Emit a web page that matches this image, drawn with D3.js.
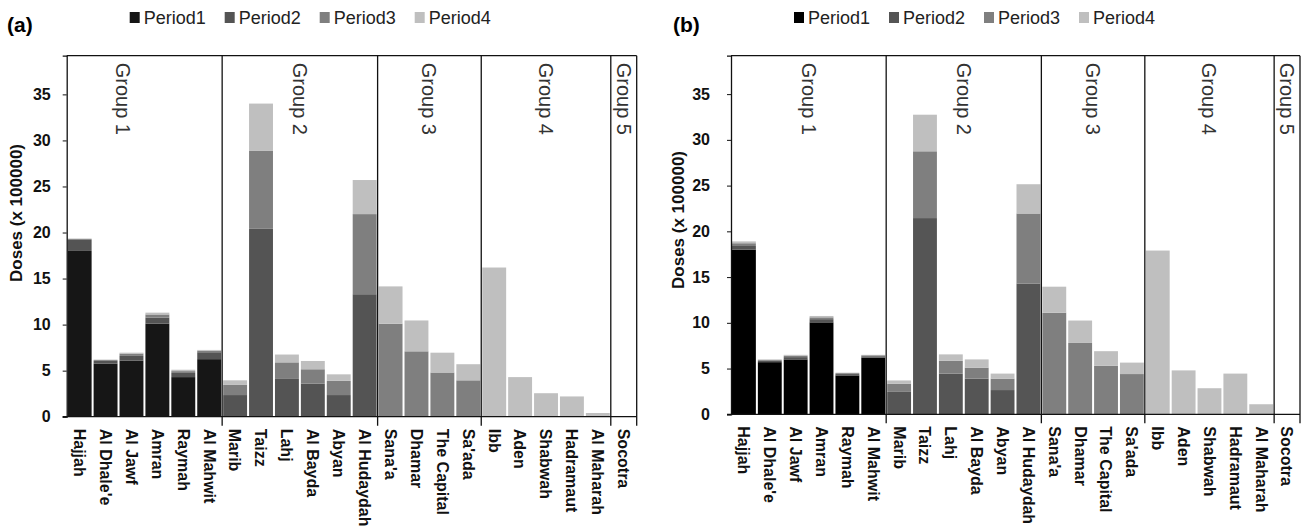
<!DOCTYPE html>
<html>
<head>
<meta charset="utf-8">
<script src="https://cdn.jsdelivr.net/npm/d3@7"></script>
<style>
  body { margin: 0; background: #fff; }
  svg { display: block; font-family: "Liberation Sans", Arial, sans-serif; }
</style>
</head>
<body>
<svg id="chart" width="1306" height="530"></svg>
<script>
// Provincias (orden del eje x) y grupos
const provinces = ["Hajjah", "Al Dhale'e", "Al Jawf", "Amran", "Raymah", "Al Mahwit",
  "Marib", "Taizz", "Lahj", "Al Bayda", "Abyan", "Al Hudaydah",
  "Sana'a", "Dhamar", "The Capital", "Sa'ada",
  "Ibb", "Aden", "Shabwah", "Hadramaut", "Al Maharah",
  "Socotra"];
const groupLabels = ["Group 1", "Group 2", "Group 3", "Group 4", "Group 5"];
const groupCounts = [6, 6, 4, 5, 1];
const periods = ["Period1", "Period2", "Period3", "Period4"];
const yTicks = [0, 5, 10, 15, 20, 25, 30, 35];

// Panel (a)
const aPeriod1 = [18, 5.75, 6.1, 10.1, 4.3, 6.25, 0, 0, 0, 0, 0, 0, 0, 0, 0, 0, 0, 0, 0, 0, 0, 0];
const aPeriod2 = [1.2, 0.3, 0.5, 0.65, 0.45, 0.75, 2.35, 20.4, 4.1, 3.6, 2.35, 13.3, 0, 0, 0, 0, 0, 0, 0, 0, 0, 0];
const aPeriod3 = [0.1, 0.1, 0.25, 0.35, 0.2, 0.15, 1.1, 8.5, 1.8, 1.55, 1.55, 8.7, 10.1, 7.1, 4.8, 3.95, 0, 0, 0, 0, 0, 0];
const aPeriod4 = [0.05, 0.05, 0.1, 0.2, 0.15, 0.1, 0.5, 5.1, 0.85, 0.9, 0.7, 3.7, 4.05, 3.35, 2.15, 1.75, 16.2, 4.3, 2.55, 2.2, 0.4, 0];

// Panel (b)
const bPeriod1 = [18, 5.7, 6.0, 10.05, 4.25, 6.2, 0, 0, 0, 0, 0, 0, 0, 0, 0, 0, 0, 0, 0, 0, 0, 0];
const bPeriod2 = [0.4, 0.15, 0.25, 0.35, 0.15, 0.15, 2.45, 21.45, 4.45, 3.9, 2.65, 14.3, 0, 0, 0, 0, 0, 0, 0, 0, 0, 0];
const bPeriod3 = [0.3, 0.1, 0.15, 0.2, 0.1, 0.1, 0.9, 7.3, 1.4, 1.2, 1.25, 7.65, 11.1, 7.8, 5.3, 4.4, 0, 0, 0, 0, 0, 0];
const bPeriod4 = [0.2, 0.05, 0.1, 0.15, 0.05, 0.05, 0.35, 4.0, 0.7, 0.9, 0.55, 3.2, 2.85, 2.45, 1.6, 1.25, 17.9, 4.8, 2.85, 4.45, 1.1, 0];

const svg = d3.select("#chart");

function drawPanel(cfg) {
  const w = cfg.right - cfg.left, h = cfg.bottom - cfg.top;

  const rows = provinces.map((p, i) => ({
    name: p,
    Period1: cfg.values[0][i], Period2: cfg.values[1][i],
    Period3: cfg.values[2][i], Period4: cfg.values[3][i]
  }));
  const series = d3.stack().keys(periods)(rows);

  const x = d3.scaleBand().domain(provinces).range([0, w]).paddingInner(0);
  const y = d3.scaleLinear().domain([0, 39.2]).range([h, 0]);
  const color = d3.scaleOrdinal().domain(periods).range(cfg.colors);

  // Etiqueta del panel
  svg.append("text")
    .attr("x", cfg.tagX).attr("y", 32)
    .style("font-size", "21px").style("font-weight", "bold")
    .text(cfg.tag);

  // Leyenda
  const leg = svg.append("g").attr("transform", `translate(${cfg.left + 63},0)`);
  periods.forEach((p, i) => {
    const g = leg.append("g").attr("transform", `translate(${i * 95},0)`);
    g.append("rect").attr("x", 0).attr("y", 12).attr("width", 10).attr("height", 11)
      .attr("fill", color(p));
    g.append("text").attr("x", 14).attr("y", 24)
      .style("font-size", "18px").attr("fill", "#222").text(p);
  });

  const g = svg.append("g").attr("transform", `translate(${cfg.left},${cfg.top})`);

  // Barras apiladas
  g.append("g")
    .selectAll("g")
    .data(series)
    .join("g")
    .attr("fill", d => color(d.key))
    .selectAll("rect")
    .data(d => d)
    .join("rect")
    .attr("x", d => x(d.data.name) + 1)
    .attr("width", x.bandwidth() - 2)
    .attr("y", d => y(d[1]))
    .attr("height", d => y(d[0]) - y(d[1]));

  // Eje y
  const yAxis = g.append("g")
    .call(d3.axisLeft(y).tickValues(yTicks).tickSize(4).tickPadding(cfg.tickPad));
  yAxis.select(".domain").attr("stroke", "#111").attr("stroke-width", 1.3);
  yAxis.selectAll("line").attr("stroke", "#111");
  yAxis.selectAll("text").style("font-size", "16px").style("font-weight", "bold")
    .attr("fill", "#111").attr("font-family", null);

  // Título del eje y
  svg.append("text")
    .attr("transform", `translate(${cfg.titleX},${cfg.titleY}) rotate(-90)`)
    .attr("text-anchor", "middle")
    .attr("dy", "0.35em")
    .style("font-size", "17px").style("font-weight", "bold").attr("fill", "#111")
    .text("Doses (x 100000)");

  // Eje x con etiquetas rotadas
  g.append("line").attr("x1", -4).attr("x2", w).attr("y1", h).attr("y2", h)
    .attr("stroke", "#111").attr("stroke-width", 1.3);
  g.append("line").attr("x1", 0).attr("x2", w).attr("y1", 0).attr("y2", 0)
    .attr("stroke", "#111").attr("stroke-width", 1.3);

  g.append("g")
    .selectAll("text")
    .data(provinces)
    .join("text")
    .attr("transform", d => `translate(${x(d) + x.bandwidth() / 2},${h + 12}) rotate(90)`)
    .attr("dy", "0.35em")
    .style("font-size", "16px").style("font-weight", "bold").attr("fill", "#111")
    .text(d => d);

  // Divisores y etiquetas de grupos
  let start = 0;
  groupLabels.forEach((lab, i) => {
    const first = provinces[start];
    const last = provinces[start + groupCounts[i] - 1];
    const x0 = x(first), x1 = x(last) + x.bandwidth();
    g.append("line").attr("x1", x1).attr("x2", x1).attr("y1", 0).attr("y2", h + 9)
      .attr("stroke", "#111").attr("stroke-width", 1.3);
    g.append("text")
      .attr("transform", `translate(${(x0 + x1) / 2 + cfg.groupNudge[i]},7) rotate(90)`)
      .attr("dy", "0.35em")
      .style("font-size", "20px").attr("fill", "#333")
      .text(lab);
    start += groupCounts[i];
  });
}

drawPanel({
  tag: "(a)", tagX: 7, left: 66.7, right: 636.7, top: 55.7, bottom: 416.7,
  titleX: 16, titleY: 213, tickPad: 12, groupNudge: [-21, 0, 0, 0, 0],
  values: [aPeriod1, aPeriod2, aPeriod3, aPeriod4],
  colors: ["#161616", "#545454", "#7f7f7f", "#bfbfbf"]
});

drawPanel({
  tag: "(b)", tagX: 673, left: 731, right: 1300, top: 55.7, bottom: 414.3,
  titleX: 678, titleY: 220, tickPad: 17, groupNudge: [0, 0, 0, 0, 0],
  values: [bPeriod1, bPeriod2, bPeriod3, bPeriod4],
  colors: ["#000000", "#555555", "#7f7f7f", "#bfbfbf"]
});
</script>
</body>
</html>
